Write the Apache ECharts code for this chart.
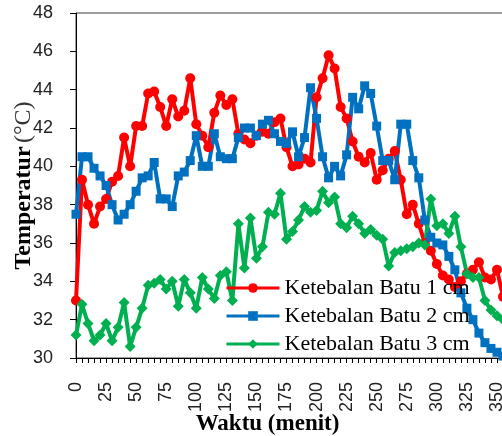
<!DOCTYPE html>
<html>
<head>
<meta charset="utf-8">
<script src="https://cdn.jsdelivr.net/npm/echarts@6/dist/echarts.min.js"></script>
<style>
  html, body { margin: 0; padding: 0; background: #fff; }
  #chart { width: 502px; height: 436px; }
</style>
</head>
<body>
<div id="chart"></div>
<script>
// time in minutes, one reading every 5 minutes
const minutes = [0, 5, 10, 15, 20, 25, 30, 35, 40, 45, 50, 55, 60, 65, 70, 75, 80, 85, 90, 95,
  100, 105, 110, 115, 120, 125, 130, 135, 140, 145, 150, 155, 160, 165, 170, 175, 180, 185, 190, 195,
  200, 205, 210, 215, 220, 225, 230, 235, 240, 245, 250, 255, 260, 265, 270, 275, 280, 285, 290, 295,
  300, 305, 310, 315, 320, 325, 330, 335, 340, 345, 350, 355]

const batu1 = [33.0, 39.3, 38.0, 37.0, 37.9, 38.3, 39.2, 39.5, 41.5, 40.0,
  42.1, 42.1, 43.8, 43.9, 43.1, 42.1, 43.5, 42.6, 42.9, 44.6,
  42.2, 41.6, 41.0, 42.8, 43.7, 43.2, 43.5, 41.7, 41.4, 41.2,
  41.6, 41.8, 41.7, 42.3, 42.5, 41.0, 40.0, 40.1, 40.4, 40.2,
  43.6, 44.6, 45.8, 45.1, 43.1, 42.5, 41.3, 40.5, 40.2, 40.7,
  39.3, 39.8, 40.4, 40.8, 39.3, 37.5, 38.0, 37.0, 36.0, 35.6,
  34.9, 34.3, 34.1, 33.7, 34.0, 34.4, 34.6, 35.0, 34.2, 34.1,
  34.6, 33.2]

const batu2 = [37.5, 40.5, 40.5, 39.9, 39.5, 39.0, 38.0, 37.2, 37.5, 38.0,
  38.7, 39.4, 39.5, 40.2, 38.3, 38.3, 37.9, 39.5, 39.7, 40.3,
  41.6, 40.0, 40.0, 41.7, 40.5, 40.4, 40.4, 41.5, 42.0, 42.0,
  41.6, 42.2, 42.4, 41.7, 41.3, 41.2, 41.8, 40.5, 41.5, 44.1,
  42.5, 40.5, 39.4, 40.0, 39.5, 40.6, 43.6, 43.0, 44.2, 43.8,
  42.1, 40.3, 40.3, 39.3, 42.2, 42.2, 40.3, 39.4, 37.2, 36.3,
  36.0, 35.9, 35.3, 34.6, 33.4, 32.6, 32.0, 31.3, 30.8, 30.5,
  30.3, 30.1]

const batu3 = [31.2, 32.8, 31.8, 30.9, 31.2, 31.8, 30.9, 31.6, 32.9, 30.6,
  31.6, 32.6, 33.8, 33.9, 34.1, 33.6, 34.0, 32.7, 34.1, 33.4,
  32.6, 34.2, 33.6, 33.1, 34.3, 34.5, 33.0, 37.0, 34.7, 37.3,
  35.2, 35.8, 37.6, 37.5, 38.6, 36.2, 36.6, 37.2, 37.9, 37.6,
  37.7, 38.7, 38.1, 38.4, 37.0, 36.8, 37.4, 37.0, 36.5, 36.7,
  36.4, 36.2, 34.8, 35.5, 35.6, 35.7, 35.8, 36.0, 35.9, 38.3,
  36.9, 37.0, 36.5, 37.4, 35.8, 34.4, 34.2, 34.2, 33.0, 32.5,
  32.2, 32.0]

const seriesNames = ['Ketebalan Batu 1 cm', 'Ketebalan Batu 2 cm', 'Ketebalan Batu 3 cm']

const pairs = vals => minutes.map((m, i) => [m, vals[i]])

const chart = echarts.init(document.getElementById('chart'))

function lineSeries(name, vals, color, symbol, size) {
  return {
    name,
    type: 'line',
    data: pairs(vals),
    symbol,
    symbolSize: size,
    showSymbol: true,
    lineStyle: { color, width: 4 },
    itemStyle: { color },
    emphasis: { disabled: true },
  }
}

chart.setOption({
  animation: false,
  grid: {
    show: true,
    left: 76, top: 13, right: -7, bottom: 78,
    outerBoundsMode: 'none',
    containLabel: false,
    borderColor: '#404040', borderWidth: 1,
  },
  legend: {
    orient: 'vertical',
    left: 220, top: 272,
    itemWidth: 53, itemHeight: 12, itemGap: 6,
    lineStyle: { width: 3 },
    textStyle: { fontFamily: 'Liberation Serif', fontSize: 22, color: '#000' },
    data: seriesNames,
  },
  xAxis: {
    type: 'value',
    min: 0, max: 360, interval: 25,
    name: 'Waktu (menit)',
    nameLocation: 'middle',
    nameGap: 55,
    nameMoveOverlap: false,
    nameTextStyle: {
      fontFamily: 'Liberation Serif', fontWeight: 'bold', fontSize: 23, color: '#000',
      padding: [0, 50, 0, 0],
    },
    axisLine: { lineStyle: { color: '#000', width: 1 } },
    axisTick: { length: 5, lineStyle: { color: '#000' } },
    minorTick: { show: true, splitNumber: 5, length: 5, lineStyle: { color: '#000' } },
    splitLine: { show: false },
    axisLabel: {
      rotate: 90, margin: 24,
      fontFamily: 'Liberation Sans', fontSize: 18, color: '#222',
    },
  },
  yAxis: {
    type: 'value',
    min: 30, max: 48, interval: 2,
    name: '{b|Temperatur} {n|(°C)}',
    nameLocation: 'middle',
    nameGap: 40,
    nameMoveOverlap: false,
    nameTextStyle: {
      rich: {
        b: { fontFamily: 'Liberation Serif', fontWeight: 'bold', fontSize: 24, color: '#000' },
        n: { fontFamily: 'Liberation Serif', fontSize: 24, color: '#333' },
      },
    },
    axisLine: { show: true, lineStyle: { color: '#000', width: 1 } },
    axisTick: { show: true, length: 6, lineStyle: { color: '#000' } },
    splitLine: { show: false },
    axisLabel: {
      margin: 23,
      fontFamily: 'Liberation Sans', fontSize: 18, color: '#222',
    },
  },
  series: [
    lineSeries(seriesNames[0], batu1, '#ff0000', 'circle', 10),
    lineSeries(seriesNames[1], batu2, '#0070c0', 'rect', 9),
    lineSeries(seriesNames[2], batu3, '#00b050', 'diamond', 11),
  ],
})
</script>
</body>
</html>
